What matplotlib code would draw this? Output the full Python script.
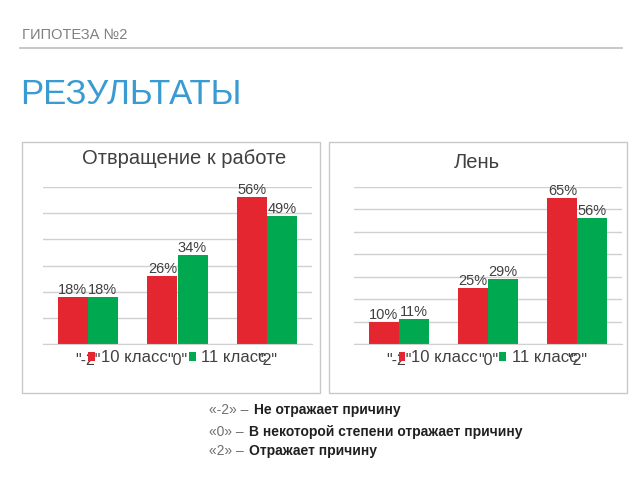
import matplotlib.pyplot as plt
from matplotlib.patches import Rectangle
import numpy as np

plt.rcParams['font.family'] = ['Liberation Sans', 'DejaVu Sans']

categories = ['"-2"', '"0"', '"2"']
series_names = ['10 класс', '11 класс']
disgust_10 = [18, 26, 56]
disgust_11 = [18, 34, 49]
lazy_10 = [10, 25, 65]
lazy_11 = [11, 29, 56]

red = '#E3262F'
green = '#00A84F'
W, H = 640, 480

fig = plt.figure(figsize=(6.4, 4.8), dpi=100)

def px(x, y):
    return x / W, 1 - y / H

# header
fig.text(*px(22, 35), 'ГИПОТЕЗА №2', fontsize=10.5, color='#808080', va='center')
fig.add_artist(plt.Line2D([20 / W, 622 / W], [1 - 48 / H] * 2, color='#bdbdbd', lw=1.2))
fig.text(*px(20, 94), 'РЕЗУЛЬТАТЫ', fontsize=25, color='#3A9BD2', va='center')

# panel frames
for x0 in (22, 329):
    fig.add_artist(Rectangle((x0 / W, 1 - 393 / H), 298 / W, 251 / H,
                             transform=fig.transFigure, fill=False,
                             ec='#c8c8c8', lw=1))

def panel(left, right, ymax, v10, v11, title, tx, ty):
    bottom = 1 - 344 / H
    top = 1 - 187 / H
    ax = fig.add_axes([left / W, bottom, (right - left) / W, top - bottom])
    x = np.arange(len(categories))
    w = 0.335
    b1 = ax.bar(x - w / 2, v10, w, color=red, label=series_names[0], zorder=2)
    b2 = ax.bar(x + w / 2, v11, w, color=green, label=series_names[1], zorder=2)
    for bars in (b1, b2):
        ax.bar_label(bars, labels=[f'{v}%' for v in bars.datavalues],
                     fontsize=10.5, color='#404040', padding=0)
    ax.set_xlim(-0.5, 2.5)
    ax.set_ylim(0, ymax)
    ax.set_yticks(np.arange(0, ymax + 1, 10))
    ax.yaxis.grid(True, color='#d0d0d0', lw=1, zorder=0)
    ax.tick_params(left=False, labelleft=False, bottom=False)
    ax.set_xticks(x)
    ax.set_xticklabels(categories, fontsize=11.5, color='#404040')
    ax.tick_params(axis='x', pad=3)
    for s in ('top', 'right', 'left'):
        ax.spines[s].set_visible(False)
    ax.spines['bottom'].set_color('#d0d0d0')
    ax.legend(loc='upper center', bbox_to_anchor=(0.5, 0.055), ncol=2,
              frameon=False, fontsize=12, handlelength=0.4, handleheight=0.4,
              handletextpad=0.35, columnspacing=1.3, labelcolor='#404040')
    fig.text(*px(tx, ty), title, fontsize=14.5, color='#404040', ha='center', va='center')

panel(43, 312, 60, disgust_10, disgust_11, 'Отвращение к работе', 184, 158)
panel(354, 622, 70, lazy_10, lazy_11, 'Лень', 477, 162)

# notes
notes = [('«-2» –', 'Не отражает причину', 410, 254),
         ('«0» –', 'В некоторой степени отражает причину', 432, 249),
         ('«2» –', 'Отражает причину', 451, 249)]
for pre, txt, y, xb in notes:
    fig.text(*px(209, y), pre, fontsize=10, color='#707070', va='center')
    fig.text(*px(xb, y), txt, fontsize=10, color='#202020', va='center', fontweight='bold')

fig.savefig('out.png', dpi=100)
